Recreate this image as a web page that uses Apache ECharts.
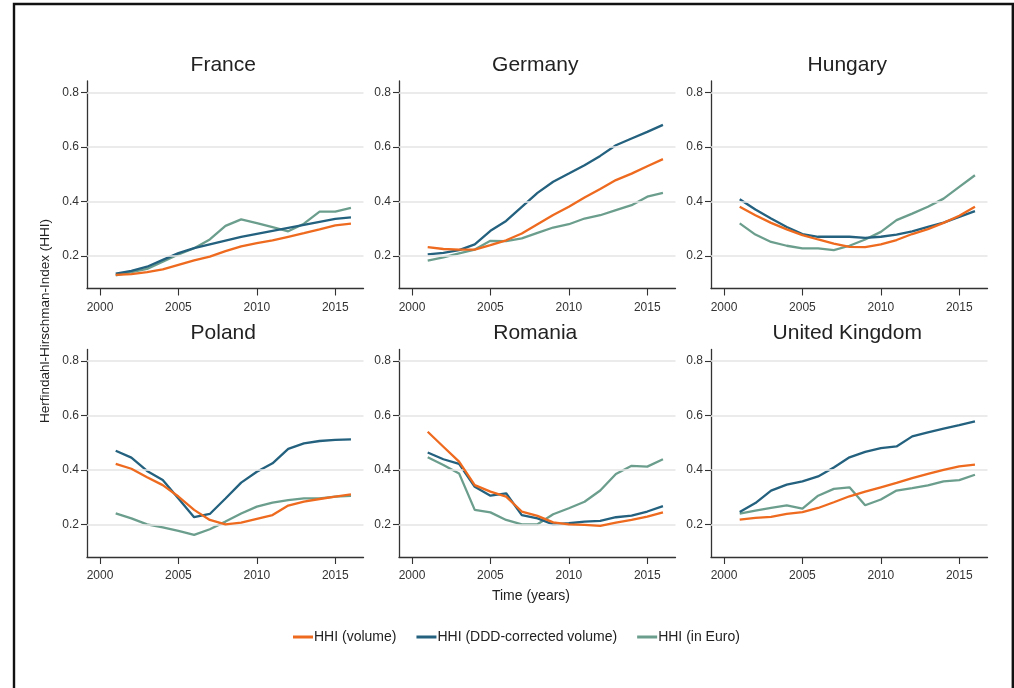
<!DOCTYPE html>
<html>
<head>
<meta charset="utf-8">
<script src="https://cdn.jsdelivr.net/npm/echarts@6/dist/echarts.min.js"></script>
<style>
html,body{margin:0;padding:0;background:#fff;}
#chart{width:1014px;height:688px;}
</style>
</head>
<body>
<div id="chart"></div>
<script>
const years = [2001,2002,2003,2004,2005,2006,2007,2008,2009,2010,2011,2012,2013,2014,2015,2016];
const countries = ['France','Germany','Hungary','Poland','Romania','United Kingdom'];
const seriesNames = ['HHI (volume)','HHI (DDD-corrected volume)','HHI (in Euro)'];
const xTicks = [2000,2005,2010,2015];
const yTicks = [0.2,0.4,0.6,0.8];

// HHI (volume)
const franceVolume  = [0.130,0.133,0.140,0.150,0.167,0.183,0.197,0.217,0.235,0.247,0.257,0.270,0.283,0.297,0.312,0.318];
const germanyVolume = [0.232,0.225,0.223,0.223,0.239,0.257,0.282,0.316,0.350,0.380,0.414,0.445,0.478,0.502,0.529,0.555];
const hungaryVolume = [0.380,0.349,0.321,0.297,0.276,0.260,0.245,0.233,0.232,0.242,0.258,0.280,0.298,0.321,0.347,0.380];
const polandVolume  = [0.422,0.404,0.373,0.344,0.302,0.253,0.216,0.200,0.206,0.220,0.234,0.269,0.283,0.293,0.302,0.310];
const romaniaVolume = [0.540,0.485,0.430,0.344,0.320,0.302,0.247,0.231,0.207,0.200,0.198,0.194,0.206,0.216,0.228,0.244];
const ukVolume      = [0.217,0.224,0.227,0.238,0.245,0.260,0.281,0.303,0.320,0.336,0.352,0.370,0.385,0.400,0.413,0.419];

// HHI (DDD-corrected volume)
const franceDDD  = [0.135,0.145,0.160,0.185,0.210,0.228,0.242,0.256,0.270,0.281,0.292,0.303,0.314,0.325,0.336,0.341];
const germanyDDD = [0.205,0.211,0.221,0.242,0.292,0.328,0.380,0.431,0.472,0.502,0.533,0.567,0.606,0.631,0.655,0.681];
const hungaryDDD = [0.408,0.370,0.337,0.306,0.280,0.270,0.270,0.270,0.266,0.270,0.278,0.290,0.306,0.322,0.343,0.364];
const polandDDD  = [0.470,0.445,0.396,0.363,0.295,0.226,0.238,0.295,0.353,0.393,0.424,0.477,0.497,0.506,0.510,0.512];
const romaniaDDD = [0.464,0.439,0.422,0.338,0.305,0.314,0.234,0.222,0.200,0.204,0.210,0.213,0.226,0.232,0.247,0.267];
const ukDDD      = [0.245,0.278,0.324,0.346,0.358,0.376,0.409,0.446,0.466,0.480,0.486,0.523,0.538,0.551,0.564,0.578];

// HHI (in Euro)
const franceEuro  = [0.128,0.140,0.152,0.178,0.205,0.228,0.260,0.310,0.334,0.320,0.305,0.290,0.318,0.362,0.362,0.376];
const germanyEuro = [0.182,0.194,0.209,0.223,0.255,0.254,0.264,0.284,0.304,0.316,0.337,0.349,0.368,0.386,0.417,0.431];
const hungaryEuro = [0.319,0.278,0.251,0.237,0.227,0.227,0.221,0.237,0.260,0.288,0.331,0.355,0.380,0.410,0.453,0.496];
const polandEuro  = [0.240,0.222,0.200,0.189,0.176,0.161,0.182,0.210,0.240,0.265,0.280,0.289,0.295,0.295,0.302,0.305];
const romaniaEuro = [0.446,0.418,0.387,0.253,0.244,0.216,0.200,0.200,0.237,0.259,0.283,0.324,0.385,0.415,0.412,0.439];
const ukEuro      = [0.239,0.250,0.260,0.270,0.258,0.305,0.330,0.336,0.270,0.291,0.324,0.333,0.343,0.358,0.362,0.382];

const volumeData = [franceVolume, germanyVolume, hungaryVolume, polandVolume, romaniaVolume, ukVolume];
const dddData    = [franceDDD, germanyDDD, hungaryDDD, polandDDD, romaniaDDD, ukDDD];
const euroData   = [franceEuro, germanyEuro, hungaryEuro, polandEuro, romaniaEuro, ukEuro];

const colors = ['#ee6a1f', '#23617f', '#6c9e8d'];
const FONT = 'Liberation Sans, Arial, sans-serif';

const lefts = [87, 399, 711];
const tops = [81, 349.5];
const gridW = 276.5, gridH = 207.5;

const grids = [], xAxes = [], yAxes = [], series = [], graphics = [];

countries.forEach((c, i) => {
  const col = i % 3, row = Math.floor(i / 3);
  grids.push({ left: lefts[col], top: tops[row], width: gridW, height: gridH, containLabel: false });
  xAxes.push({
    type: 'value', gridIndex: i, min: 1999.17, max: 2016.8,
    axisLine: { show: true, onZero: false, lineStyle: { color: '#333', width: 1.3 } },
    axisTick: { show: true, length: 7, customValues: xTicks, lineStyle: { color: '#333', width: 1.1 } },
    axisLabel: { show: true, customValues: xTicks, margin: 13, color: '#333', fontSize: 12, fontFamily: FONT,
                 formatter: v => String(v) },
    splitLine: { show: false }
  });
  yAxes.push({
    type: 'value', gridIndex: i, min: 0.08, max: 0.842,
    axisLine: { show: true, onZero: false, lineStyle: { color: '#333', width: 1.3 } },
    axisTick: { show: true, length: 6, customValues: yTicks, lineStyle: { color: '#333', width: 1.1 } },
    axisLabel: { show: true, customValues: yTicks, margin: 8, color: '#333', fontSize: 12, fontFamily: FONT,
                 formatter: v => v.toFixed(1) },
    splitLine: { show: false }
  });
  series.push({
    type: 'line', name: 'gridlines', xAxisIndex: i, yAxisIndex: i, data: [], z: 1, silent: true,
    markLine: {
      silent: true, symbol: ['none', 'none'], label: { show: false },
      lineStyle: { color: '#e4e4e4', width: 1.6, type: 'solid' },
      data: yTicks.map(v => ({ yAxis: v }))
    }
  });
  [volumeData, dddData, euroData].forEach((arr, k) => {
    series.push({
      type: 'line', name: seriesNames[k], xAxisIndex: i, yAxisIndex: i, z: 5 - k,
      data: years.map((y, j) => [y, arr[i][j]]),
      symbol: 'none', lineStyle: { color: colors[k], width: 2.3 }, itemStyle: { color: colors[k] },
      animation: false
    });
  });
  graphics.push({
    type: 'text', x: lefts[col] + gridW / 2 - 2, y: row === 0 ? 65 : 333,
    style: { text: c, fontSize: 21, fontFamily: FONT, fill: '#222', textAlign: 'center', textVerticalAlign: 'middle' }
  });
});

graphics.push({
  type: 'text', x: 45, y: 321, rotation: Math.PI / 2,
  style: { text: 'Herfindahl-Hirschman-Index (HHI)', fontSize: 13.5, fontFamily: FONT, fill: '#222',
           textAlign: 'center', textVerticalAlign: 'middle' }
});
graphics.push({
  type: 'text', x: 531, y: 596,
  style: { text: 'Time (years)', fontSize: 14, fontFamily: FONT, fill: '#222',
           textAlign: 'center', textVerticalAlign: 'middle' }
});
graphics.push({
  type: 'rect', shape: { x: 14, y: 4, width: 998.8, height: 720 },
  style: { fill: 'none', stroke: '#111', lineWidth: 2.4 }, silent: true
});

const chart = echarts.init(document.getElementById('chart'), null, { renderer: 'canvas' });
chart.setOption({
  animation: false,
  backgroundColor: '#fff',
  grid: grids,
  xAxis: xAxes,
  yAxis: yAxes,
  series: series,
  graphic: graphics,
  legend: {
    data: seriesNames, left: 288, top: 625, itemGap: 20, itemWidth: 20, itemHeight: 3, icon: 'rect',
    textStyle: { fontSize: 14, fontFamily: FONT, color: '#222', padding: [0, 0, 0, -4] }
  }
});
</script>
</body>
</html>
